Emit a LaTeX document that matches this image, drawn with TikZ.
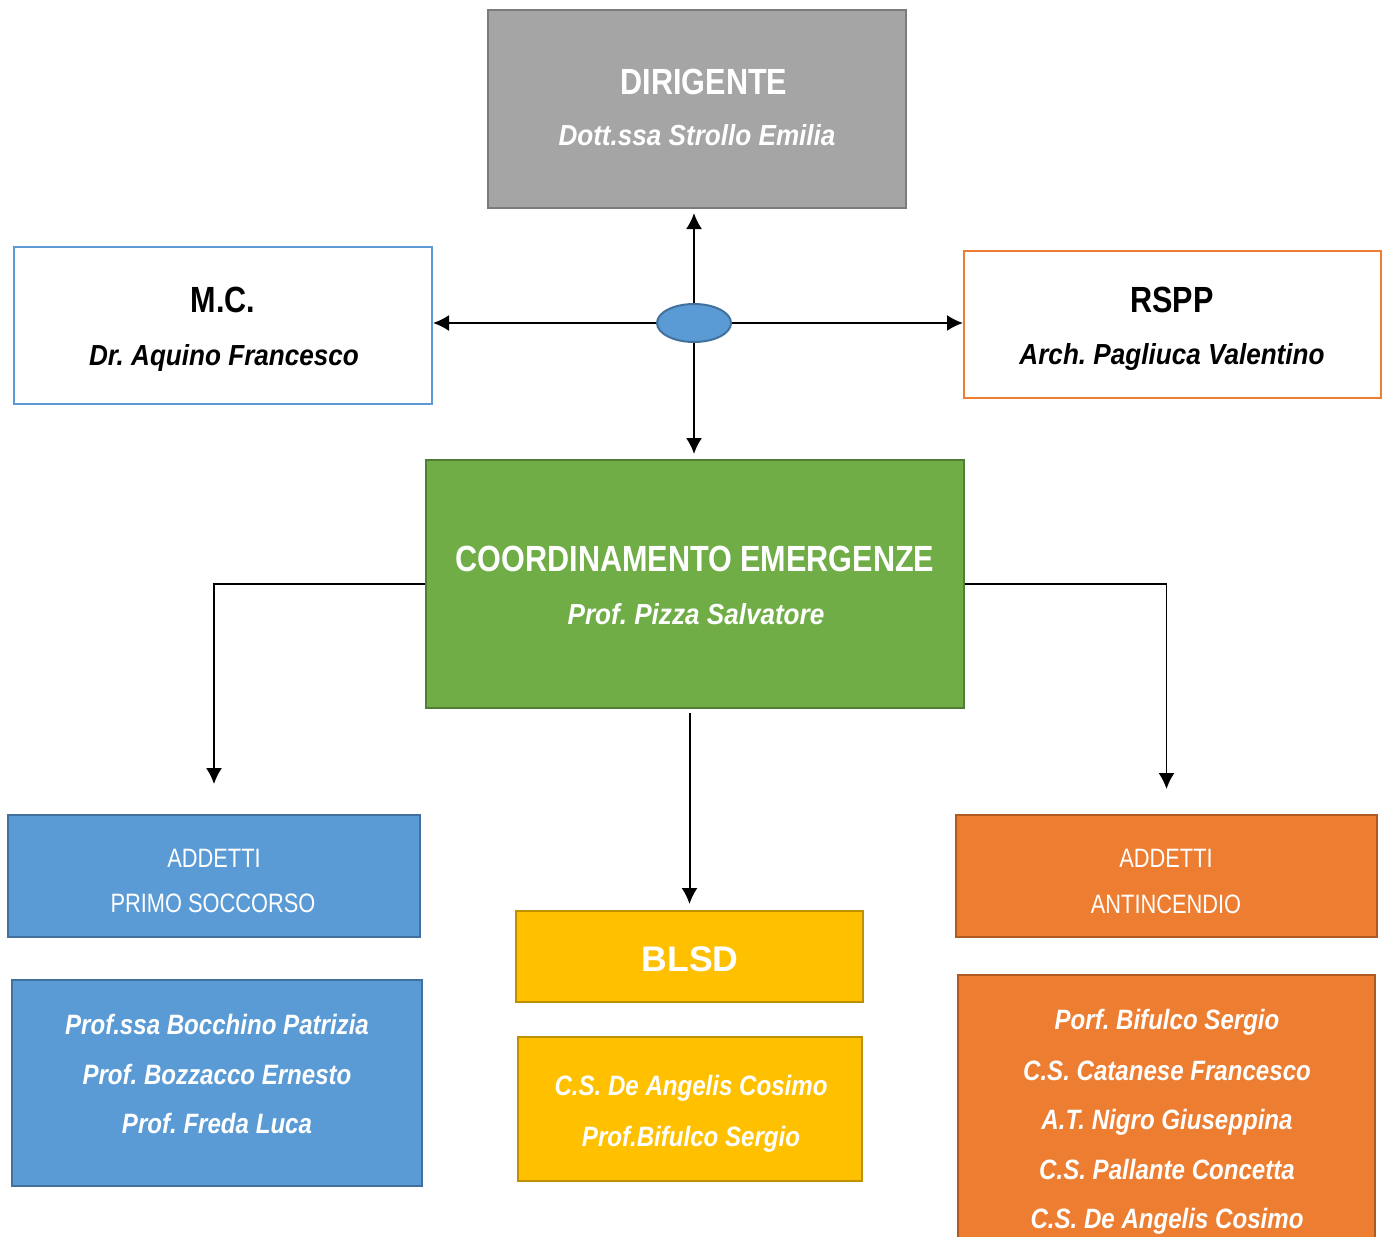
\documentclass[tikz,border=0pt]{standalone}
\usepackage{fontspec}
\setmainfont{Liberation Sans}
\newfontfamily\fT[FakeStretch=0.84]{Liberation Sans}
\newfontfamily\fN[FakeStretch=0.90]{Liberation Sans}
\newfontfamily\fL[FakeStretch=0.86]{Liberation Sans}
\newfontfamily\fR[FakeStretch=0.82]{Liberation Sans}
\usetikzlibrary{arrows.meta,shapes.geometric}
\frenchspacing
\definecolor{cgray}{HTML}{A5A5A5}
\definecolor{cgrayd}{HTML}{7B7B7B}
\definecolor{cblue}{HTML}{5B9BD5}
\definecolor{cblued}{HTML}{41719C}
\definecolor{cgreen}{HTML}{70AD47}
\definecolor{cgreend}{HTML}{507E32}
\definecolor{cyel}{HTML}{FFC000}
\definecolor{cyeld}{HTML}{BF9000}
\definecolor{corg}{HTML}{ED7D31}
\definecolor{corgd}{HTML}{AE5A21}
\tikzset{
  box/.style={draw, rectangle, line width=1pt, inner sep=0pt},
  ttl/.style={anchor=base, inner sep=0pt, font=\fT\bfseries\fontsize{18.2}{20}\selectfont},
  nm/.style={anchor=base, inner sep=0pt, font=\fN\bfseries\itshape\fontsize{14.5}{16}\selectfont},
  lnm/.style={anchor=base, inner sep=0pt, text=white, font=\fL\bfseries\itshape\fontsize{14}{16}\selectfont},
  reg/.style={anchor=base, inner sep=0pt, text=white, font=\fR\fontsize{13.3}{15}\selectfont},
  arr/.style={line width=1pt, -{Latex[length=8pt,width=8pt]}},
  arrt/.style={line width=0.8pt, -{Latex[length=8pt,width=8pt]}}
}
\begin{document}
\frenchspacing
\begin{tikzpicture}[x=0.5pt,y=-0.5pt]
\useasboundingbox (0,0) rectangle (1384,1236);
\clip (0,0) rectangle (1384,1236);
% boxes
\node[box, fill=cgray, draw=cgrayd, minimum width=209pt, minimum height=99pt] (dir) at (697,109) {};
\node[box, fill=white, draw=cblue, minimum width=209pt, minimum height=78.5pt] (mc) at (223,325.5) {};
\node[box, fill=white, draw=corg, minimum width=208.5pt, minimum height=73.5pt] (rspp) at (1172.5,324.5) {};
\node[box, fill=cgreen, draw=cgreend, minimum width=269pt, minimum height=124pt] (coord) at (695,584) {};
\node[box, fill=cblue, draw=cblued, minimum width=206pt, minimum height=61pt] (ps) at (214,876) {};
\node[box, fill=cblue, draw=cblued, minimum width=205pt, minimum height=103pt] (psn) at (217,1083) {};
\node[box, fill=cyel, draw=cyeld, minimum width=173.5pt, minimum height=45.5pt] (blsd) at (689.5,956.5) {};
\node[box, fill=cyel, draw=cyeld, minimum width=172pt, minimum height=72pt] (blsdn) at (690,1109) {};
\node[box, fill=corg, draw=corgd, minimum width=210.5pt, minimum height=61pt] (ai) at (1166.5,876) {};
\node[box, fill=corg, draw=corgd, minimum width=208.5pt, minimum height=142.5pt] (ain) at (1166.5,1117.5) {};
\node[ellipse, draw=cblued, fill=cblue, line width=1pt, minimum width=37pt, minimum height=19pt, inner sep=0pt] (ell) at (694,323) {};
% texts
\node[ttl, text=white] (dirA) at (704,95) {DIRIGENTE};
\node[nm, text=white] (dirB) at (697,145) {Dott.ssa Strollo Emilia};
\node[ttl] (mcA) at (223,312) {M.C.};
\node[nm] (mcB) at (224,365) {Dr. Aquino Francesco};
\node[ttl] (rsA) at (1172,312) {RSPP};
\node[nm] (rsB) at (1172,364) {Arch. Pagliuca Valentino};
\node[ttl, text=white] (coA) at (695,571) {COORDINAMENTO EMERGENZE};
\node[nm, text=white] (coB) at (696,624) {Prof. Pizza Salvatore};
\node[reg] (psA) at (214,867) {ADDETTI};
\node[reg] (psB) at (213,912) {PRIMO SOCCORSO};
\node[reg] (aiA) at (1166,867) {ADDETTI};
\node[reg] (aiB) at (1166,913) {ANTINCENDIO};
\node[lnm] (p1) at (217,1034) {Prof.ssa Bocchino Patrizia};
\node[lnm] (p2) at (217,1084) {Prof. Bozzacco Ernesto};
\node[lnm] (p3) at (217,1133) {Prof. Freda Luca};
\node[anchor=base, inner sep=0pt, text=white, font=\bfseries\fontsize{17.8}{20}\selectfont] (blA) at (690,971) {BLSD};
\node[lnm] (b1) at (691,1095) {C.S. De Angelis Cosimo};
\node[lnm] (b2) at (691,1146) {Prof.Bifulco Sergio};
\node[lnm] (a1) at (1167,1029) {Porf. Bifulco Sergio};
\node[lnm] (a2) at (1167,1080) {C.S. Catanese Francesco};
\node[lnm] (a3) at (1167,1129) {A.T. Nigro Giuseppina};
\node[lnm] (a4) at (1167,1179) {C.S. Pallante Concetta};
\node[lnm] (a5) at (1167,1228) {C.S. De Angelis Cosimo};
% connectors
\draw[arr, shorten >=2pt] (ell.north) -- (ell.north |- dir.south);
\draw[arr, shorten >=2.5pt] (ell.south) -- (ell.south |- coord.north);
\draw[arr] (ell.west) -- (ell.west -| mc.east);
\draw[arr] (ell.east) -- (ell.east -| rspp.west);
\draw[arrt, shorten >=15pt] (coord.west) -| (ps.north);
\draw[arrt, shorten >=12.5pt] (coord.east) -| (ai.north);
\draw[arr, shorten <=2pt, shorten >=3pt] (coord.south -| blsd.north) -- (blsd.north);
\end{tikzpicture}
\end{document}
